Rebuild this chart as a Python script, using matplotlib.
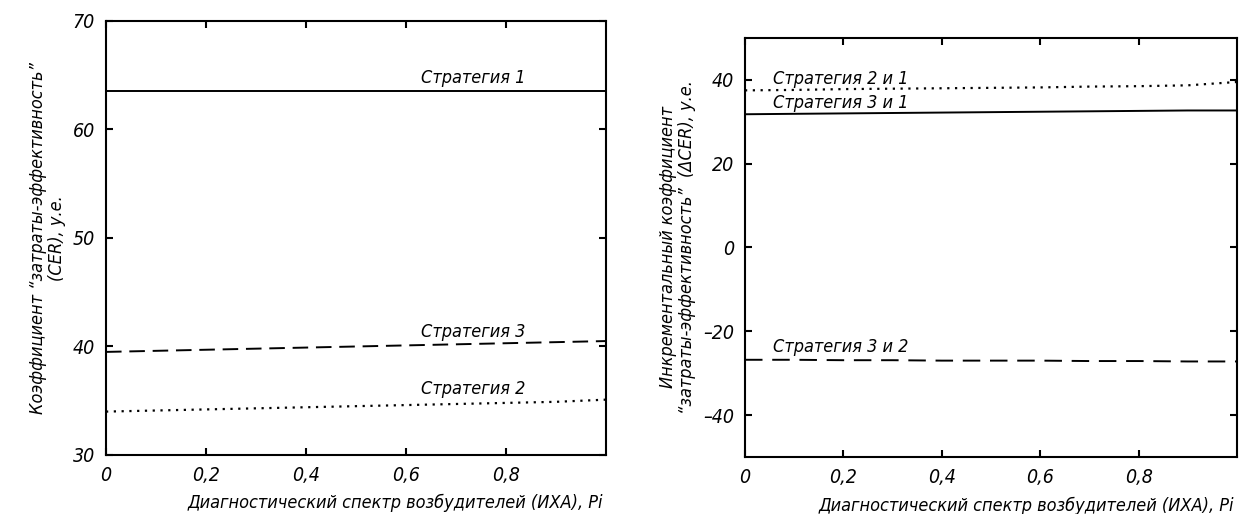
import matplotlib
matplotlib.use("Agg")
import matplotlib.pyplot as plt

plt.rcParams['font.family'] = ['DejaVu Sans']
plt.rcParams['font.stretch'] = 'condensed'
plt.rcParams['font.style'] = 'italic'

# ---- data ----
x = [0.0, 0.1, 0.2, 0.3, 0.4, 0.5, 0.6, 0.7, 0.8, 0.9, 1.0]

cer_s1 = [63.5, 63.5, 63.5, 63.5, 63.5, 63.5, 63.5, 63.5, 63.5, 63.5, 63.5]
cer_s3 = [39.5, 39.6, 39.7, 39.8, 39.9, 40.0, 40.1, 40.2, 40.3, 40.4, 40.5]
cer_s2 = [34.0, 34.1, 34.2, 34.3, 34.4, 34.5, 34.6, 34.7, 34.8, 34.9, 35.1]

d21 = [37.5, 37.6, 37.8, 37.9, 38.0, 38.1, 38.2, 38.4, 38.5, 38.7, 39.5]
d31 = [31.8, 31.9, 32.0, 32.1, 32.2, 32.3, 32.4, 32.5, 32.6, 32.7, 32.7]
d32 = [-26.8, -26.8, -26.9, -26.9, -27.0, -27.0, -27.0, -27.1, -27.1, -27.2, -27.2]

xticks = [0, 0.2, 0.4, 0.6, 0.8]
xticklabels = ['0', '0,2', '0,4', '0,6', '0,8']
yticks_left = [30, 40, 50, 60, 70]
yticks_right = [-40, -20, 0, 20, 40]
yticklabels_right = ['\u201340', '\u201320', '0', '20', '40']

xlabel = 'Диагностический спектр возбудителей (ИХА), Pi'
ylabel_left = 'Коэффициент \u201cзатраты-эффективность\u201d\n(CER), у.е.'
ylabel_right = 'Инкрементальный коэффициент\n\u201cзатраты-эффективность\u201d  (\u0394CER), у.е.'

FS = 13
TFS = 14

fig = plt.figure(figsize=(12.5, 5.14), dpi=100)
ax1 = fig.add_axes([0.0848, 0.1148, 0.4, 0.8444])
ax2 = fig.add_axes([0.596, 0.1109, 0.3936, 0.8152])


def style(ax):
    for s in ax.spines.values():
        s.set_linewidth(1.5)
    ax.tick_params(direction='in', length=5, width=1.5, top=True, right=True,
                   labelsize=TFS, pad=8)


# left panel
ax1.plot(x, cer_s1, color='black', lw=1.4, ls='-')
ax1.plot(x, cer_s3, color='black', lw=1.4, ls=(0, (8, 4)))
ax1.plot(x, cer_s2, color='black', lw=1.6, ls=(0, (1, 2.5)))
ax1.set_xlim(0, 1.0)
ax1.set_ylim(30, 70)
ax1.set_xticks(xticks)
ax1.set_xticklabels(xticklabels)
ax1.set_yticks(yticks_left)
ax1.set_yticklabels([str(v) for v in yticks_left])
style(ax1)
ax1.text(0.63, 64.3, 'Стратегия 1', fontsize=FS)
ax1.text(0.63, 40.9, 'Стратегия 3', fontsize=FS)
ax1.text(0.63, 35.6, 'Стратегия 2', fontsize=FS)
ax1.set_xlabel(xlabel, fontsize=FS, ha='right')
ax1.xaxis.set_label_coords(0.995, -0.09)
ax1.set_ylabel(ylabel_left, fontsize=FS, multialignment='center', linespacing=1.05)
ax1.yaxis.set_label_coords(-0.08, 0.5)

# right panel
ax2.plot(x, d21, color='black', lw=1.6, ls=(0, (1, 2.5)))
ax2.plot(x, d31, color='black', lw=1.4, ls='-')
ax2.plot(x, d32, color='black', lw=1.4, ls=(0, (9, 5)))
ax2.set_xlim(0, 1.0)
ax2.set_ylim(-50, 50)
ax2.set_xticks(xticks)
ax2.set_xticklabels(xticklabels)
ax2.set_yticks(yticks_right)
ax2.set_yticklabels(yticklabels_right)
style(ax2)
ax2.text(0.057, 38.9, 'Стратегия 2 и 1', fontsize=FS)
ax2.text(0.057, 33.2, 'Стратегия 3 и 1', fontsize=FS)
ax2.text(0.057, -25.0, 'Стратегия 3 и 2', fontsize=FS)
ax2.set_xlabel(xlabel, fontsize=FS, ha='right')
ax2.xaxis.set_label_coords(0.995, -0.095)
ax2.set_ylabel(ylabel_right, fontsize=FS, multialignment='center', linespacing=1.05)
ax2.yaxis.set_label_coords(-0.1, 0.5)

fig.savefig('out.png', dpi=100)
